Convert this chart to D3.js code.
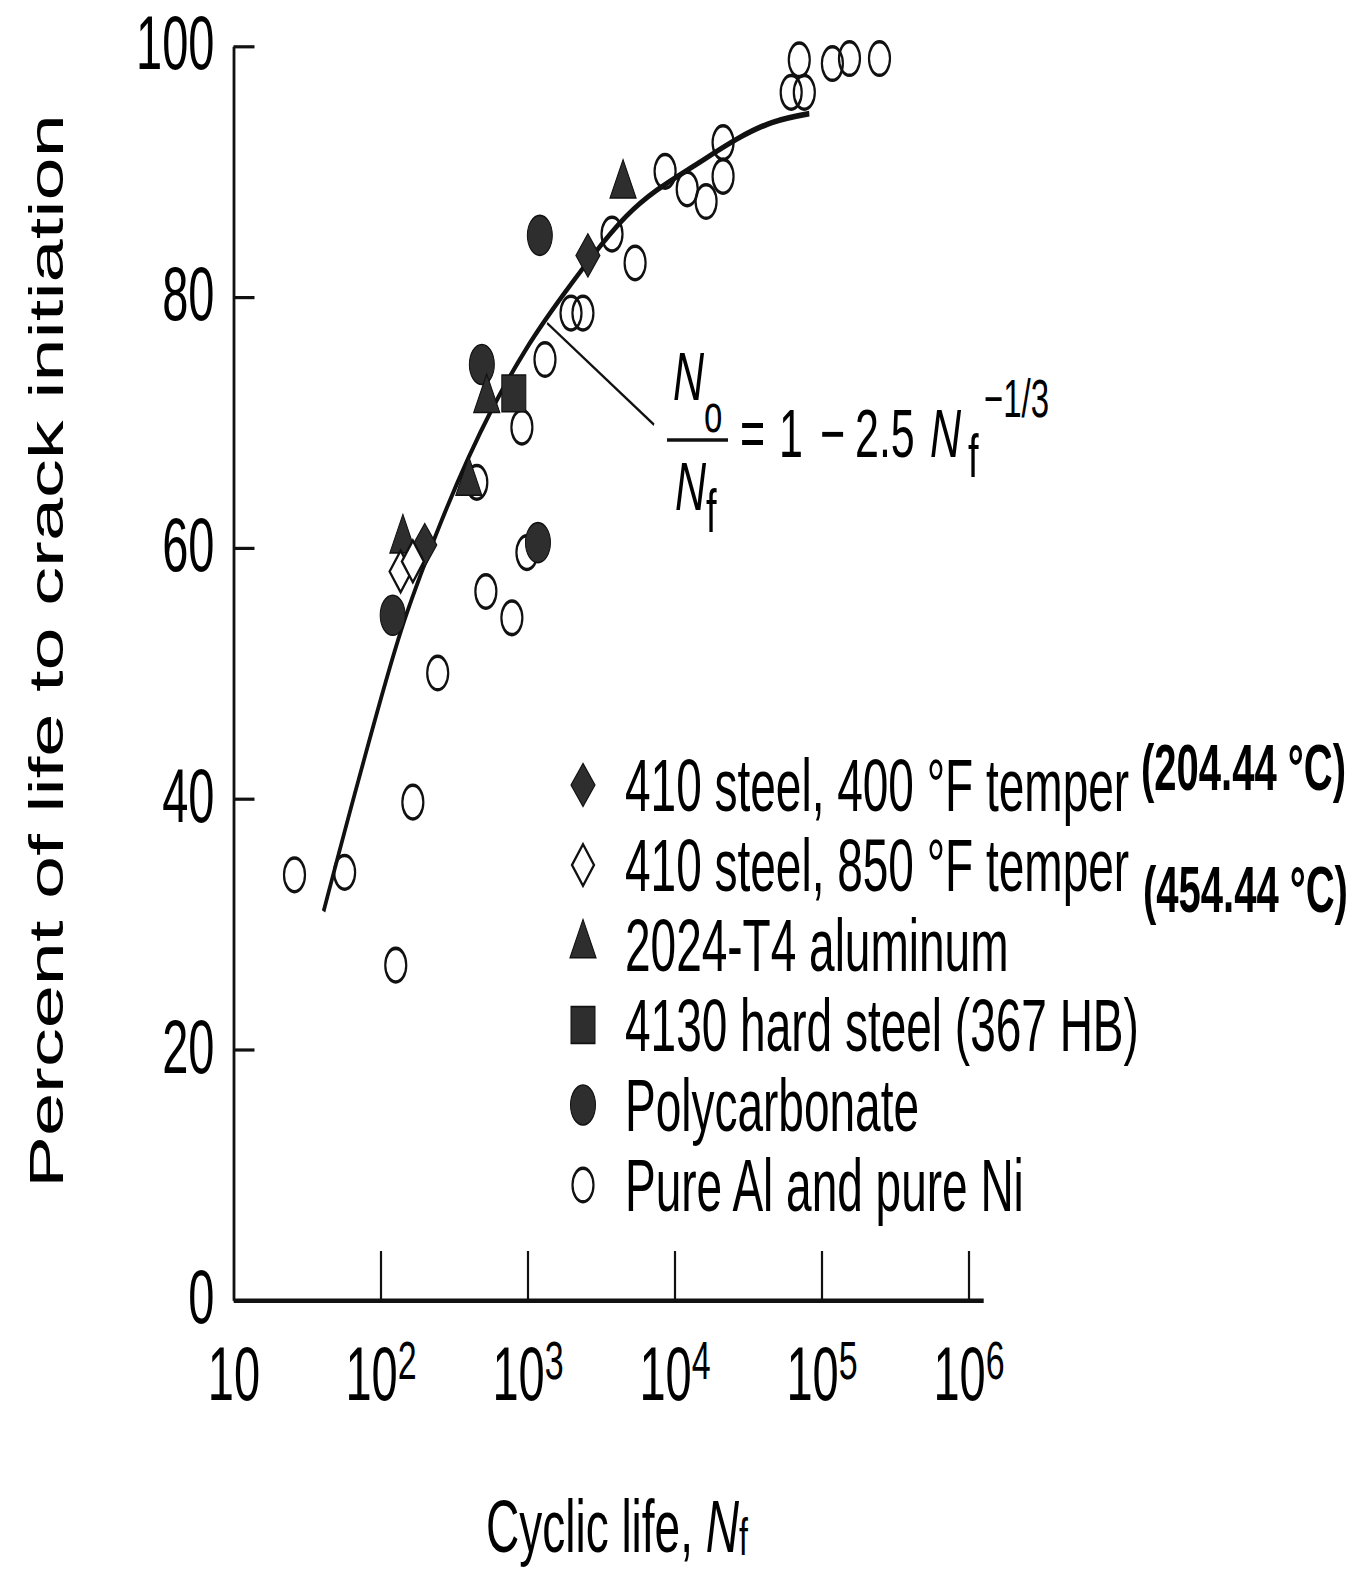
<!DOCTYPE html>
<html>
<head>
<meta charset="utf-8">
<script src="https://cdn.jsdelivr.net/npm/d3@7"></script>
<style>
  body { margin: 0; background: #fff; }
  text { font-family: "Liberation Sans", Arial, Helvetica, sans-serif; fill: #000; }
</style>
</head>
<body>
<svg id="chart" width="1365" height="1576"></svg>
<script>
// the scanned figure is stretched vertically, so everything is drawn in a y-scaled group
const K = 1.6;

// data: [cyclic life Nf, percent of life to crack initiation]
const steel400 = [[2576, 83.3], [200, 60.2]];
const steel850 = [[137, 58.1], [166, 58.9]];
const al2024 = [[4467, 88.9], [528, 71.8], [399, 65.2], [142, 60.6]];
const steel4130 = [[807, 72.3]];
const polycarb = [[1213, 84.9], [489, 74.6], [121, 54.6], [1178, 60.4]];
const pureAlNi = [
  [3758, 85.0], [5395, 82.7], [1977, 78.7], [2383, 78.7], [1315, 75.0], [916, 69.6],
  [452, 65.2], [991, 59.6], [521, 56.5], [783, 54.4], [245, 50.0], [166, 39.7],
  [26, 33.9], [57, 34.1], [127, 26.7], [8630, 90.0], [12200, 88.6], [16400, 87.6],
  [21400, 92.3], [21400, 89.6], [70600, 98.9], [62200, 96.3], [76400, 96.3],
  [118600, 98.6], [155000, 99.0], [248000, 99.0]
];
// fitted curve as drawn
const curvePts = [[41, 31], [71, 41.5], [139, 53.5], [238, 61], [571, 71], [975, 75.8],
  [2005, 81.1], [4677, 86.4], [14700, 90.7], [46200, 93.9], [82600, 94.6]];
const leader = [[1360, 77.9], [7260, 69.8]];

const xTicks = [10, 1e2, 1e3, 1e4, 1e5, 1e6];
const yTicks = [0, 20, 40, 60, 80, 100];

const legendLabels = [
  "410 steel, 400 °F temper",
  "410 steel, 850 °F temper",
  "2024-T4 aluminum",
  "4130 hard steel (367 HB)",
  "Polycarbonate",
  "Pure Al and pure Ni"
];
const legendKinds = ["diamondFilled", "diamondOpen", "triangle", "square", "circleFilled", "circleOpen"];
const tempNotes = ["(204.44 °C)", "(454.44 °C)"];

const svg = d3.select("#chart");
svg.append("rect").attr("width", 1365).attr("height", 1576).attr("fill", "#fff");
const g = svg.append("g").attr("transform", `scale(1,${K})`);

const x = d3.scaleLog().domain([10, 10 ** 6.1]).range([233.5, 233.5 + 147 * 5.1]);
const y = d3.scaleLinear().domain([0, 100]).range([1300 / K, 46 / K]);

const ink = "#111";
const fillDark = "#2e2e2e";

// y axis
const yAxisG = g.append("g")
    .attr("transform", `translate(${x(10)},0)`)
    .call(d3.axisLeft(y).tickValues(yTicks).tickFormat(d3.format("d"))
      .tickSizeInner(-21).tickSizeOuter(0).tickPadding(19));
yAxisG.select(".domain").attr("stroke", ink).attr("stroke-width", 2.8);
yAxisG.selectAll(".tick line").attr("stroke", ink).attr("stroke-width", 2);
yAxisG.selectAll(".tick text")
    .attr("font-size", 47).attr("dy", "0.3em")
    .attr("font-family", "Liberation Sans, Arial, sans-serif").attr("fill", "#000");

// x axis
const xAxisG = g.append("g")
    .attr("transform", `translate(0,${y(0)})`)
    .call(d3.axisBottom(x).tickValues(xTicks).tickFormat("")
      .tickSizeInner(-49 / K).tickSizeOuter(0).tickPadding(29));
xAxisG.select(".domain").attr("stroke", ink).attr("stroke-width", 2.8);
xAxisG.selectAll(".tick line").attr("stroke", ink).attr("stroke-width", 2.2)
    .attr("opacity", d => d === 10 ? 0 : 1);
xAxisG.selectAll(".tick text").each(function(d) {
  const t = d3.select(this)
      .attr("font-size", 47).attr("fill", "#000")
      .attr("font-family", "Liberation Sans, Arial, sans-serif");
  const e = Math.round(Math.log10(d));
  t.append("tspan").text("10");
  if (e > 1) t.append("tspan").attr("font-size", 34).attr("dy", -13).text(e);
});

// curve and leader
const line = d3.line().x(d => x(d[0])).y(d => y(d[1])).curve(d3.curveMonotoneX);
g.append("path").datum(curvePts).attr("d", line)
    .attr("fill", "none").attr("stroke", ink).attr("stroke-width", 3.6);
g.append("path").datum(leader).attr("d", d3.line().x(d => x(d[0])).y(d => y(d[1])))
    .attr("fill", "none").attr("stroke", ink).attr("stroke-width", 1.8);

// marker shapes (in the unstretched frame)
const shapes = {
  diamondFilled: "M0,-13.5L12,0L0,13.5L-12,0Z",
  diamondOpen: "M0,-13L11,0L0,13L-11,0Z",
  triangle: "M0,-16L13,8L-13,8Z",
  square: "M-12,-11.5h24v23h-24Z"
};
function marker(sel, kind) {
  if (kind === "circleOpen") {
    sel.append("circle").attr("r", 10.5).attr("fill", "none").attr("stroke", ink).attr("stroke-width", 2.2);
  } else if (kind === "circleFilled") {
    sel.append("circle").attr("r", 12.5).attr("fill", fillDark).attr("stroke", ink).attr("stroke-width", 1);
  } else if (kind === "diamondOpen") {
    sel.append("path").attr("d", shapes[kind]).attr("fill", "#fff").attr("stroke", ink).attr("stroke-width", 2);
  } else {
    sel.append("path").attr("d", shapes[kind]).attr("fill", fillDark).attr("stroke", ink).attr("stroke-width", 1);
  }
}

const series = [
  [pureAlNi, "circleOpen"],
  [polycarb, "circleFilled"],
  [al2024, "triangle"],
  [steel4130, "square"],
  [steel400, "diamondFilled"],
  [steel850, "diamondOpen"]
];
series.forEach(([data, kind]) => {
  g.append("g").selectAll("g").data(data).join("g")
      .attr("transform", d => `translate(${x(d[0])},${y(d[1])})`)
      .each(function() { marker(d3.select(this), kind); });
});

// legend
const leg = g.append("g");
legendLabels.forEach((label, i) => {
  const cy = (785 + 80 * i) / K;
  marker(leg.append("g").attr("transform", `translate(583,${cy})`), legendKinds[i]);
  leg.append("text").attr("x", 625).attr("y", (811 + 80 * i) / K)
      .attr("font-size", 46).text(label);
});
leg.append("text").attr("x", 1141).attr("y", 790 / K)
    .attr("font-size", 40).attr("font-weight", "bold").text(tempNotes[0]);
leg.append("text").attr("x", 1143).attr("y", 912 / K)
    .attr("font-size", 40).attr("font-weight", "bold").text(tempNotes[1]);

// equation
const eq = g.append("g");
const num = eq.append("text").attr("x", 673).attr("y", 400 / K).attr("font-size", 43);
num.append("tspan").attr("font-style", "italic").text("N");
num.append("tspan").attr("font-size", 33).attr("dy", 32 / K).text("o");
eq.append("line").attr("x1", 667).attr("x2", 728).attr("y1", 440 / K).attr("y2", 440 / K)
    .attr("stroke", ink).attr("stroke-width", 2.2);
const den = eq.append("text").attr("x", 675).attr("y", 510 / K).attr("font-size", 43);
den.append("tspan").attr("font-style", "italic").text("N");
den.append("tspan").attr("font-size", 38).attr("dy", 22 / K).text("f");
const rhs = eq.append("text").attr("y", 457 / K).attr("font-size", 43);
rhs.append("tspan").attr("x", 740).text("=");
rhs.append("tspan").attr("x", 779).text("1");
rhs.append("tspan").attr("x", 820).text("−");
rhs.append("tspan").attr("x", 855).text("2.5");
rhs.append("tspan").attr("x", 930).attr("font-style", "italic").text("N");
rhs.append("tspan").attr("x", 968).attr("font-size", 38).attr("dy", 20 / K).text("f");
rhs.append("tspan").attr("x", 984).attr("font-size", 33).attr("dy", -60 / K).text("−1/3");

// axis titles
const xt = g.append("text").attr("x", 486).attr("y", 1552 / K).attr("font-size", 46);
xt.append("tspan").text("Cyclic life, ");
xt.append("tspan").attr("font-style", "italic").text("N");
xt.append("tspan").attr("font-size", 32).attr("dy", 3 / K).text("f");

g.append("text")
    .attr("transform", `translate(63,${651 / K}) rotate(-90)`)
    .attr("text-anchor", "middle").attr("font-size", 48.5)
    .text("Percent of life to crack initiation");
</script>
</body>
</html>
